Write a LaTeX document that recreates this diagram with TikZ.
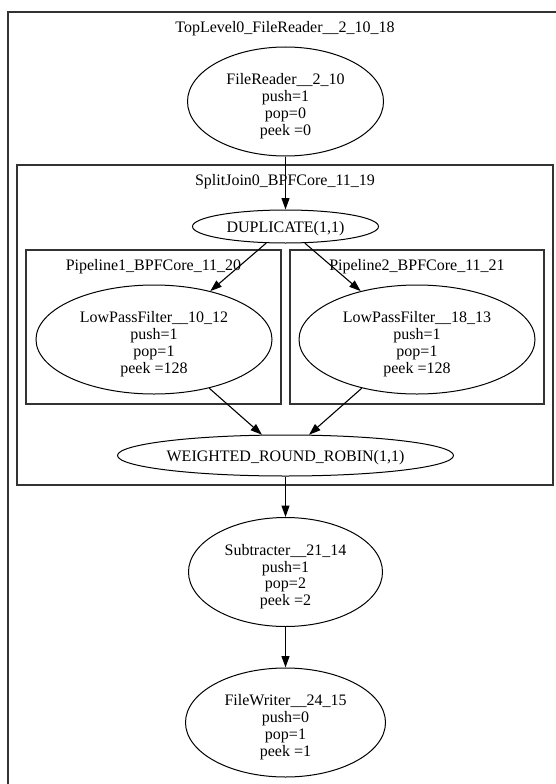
\documentclass[tikz,border=0pt]{standalone}
\usepackage{fontspec}
\setmainfont{Liberation Serif}
\usetikzlibrary{shapes.geometric,arrows.meta}
\newcommand{\zw}[1]{\raisebox{-6.5pt}{\makebox[0pt]{\rmfamily\begin{tabular}{@{}c@{}}#1\end{tabular}}}}
\newcommand{\zm}[1]{\raisebox{-9.5pt}{\makebox[0pt]{\rmfamily\begin{tabular}{@{}c@{}}#1\end{tabular}}}}
\begin{document}
\begin{tikzpicture}[x=1pt,y=-1pt,
  every node/.style={font=\fontsize{16}{16.7}\selectfont\rmfamily},
  proc/.style={draw=black,line width=1pt,ellipse,inner sep=0pt,text height=0pt,text depth=0pt},
  clusterbox/.style={draw=black!80,line width=1.1pt},
  title/.style={anchor=base,inner sep=0pt},
  flow/.style={draw=black,line width=1.1pt,-{Triangle[length=11.5pt,width=8pt]}}]
\useasboundingbox (0,0) rectangle (556,784);
\begin{scope}
\clip (0,0) rectangle (556,784);
\draw[clusterbox] (8,12) rectangle (620,830);
\end{scope}
\node[title] (ttop) at (285,32.5) {TopLevel0\_FileReader\_\_2\_10\_18};
\draw[clusterbox] (17,165) rectangle (553,485);
\node[title] (tsj) at (285,185.5) {SplitJoin0\_BPFCore\_11\_19};
\draw[clusterbox] (26,250) rectangle (281,404);
\node[title] (tp1) at (153.5,270.5) {Pipeline1\_BPFCore\_11\_20};
\draw[clusterbox] (290,250) rectangle (544,404);
\node[title] (tp2) at (417,270.5) {Pipeline2\_BPFCore\_11\_21};

\node[proc,minimum width=196pt,minimum height=109pt] (fr) at (285.5,101.5)
  {\zm{FileReader\_\_2\_10\\push=1\\pop=0\\peek =0}};
\node[proc,minimum width=186pt,minimum height=33pt] (dup) at (285.5,226.5)
  {\zw{DUPLICATE(1,1)}};
\node[proc,minimum width=236pt,minimum height=109pt] (lp1) at (154,339.5)
  {\zm{LowPassFilter\_\_10\_12\\push=1\\pop=1\\peek =128}};
\node[proc,minimum width=236pt,minimum height=109pt] (lp2) at (417,339.5)
  {\zm{LowPassFilter\_\_18\_13\\push=1\\pop=1\\peek =128}};
\node[proc,minimum width=336pt,minimum height=41pt] (wrr) at (285.5,455.5)
  {\zw{WEIGHTED\_ROUND\_ROBIN(1,1)}};
\node[proc,minimum width=194pt,minimum height=109pt] (sub) at (285.5,572)
  {\zm{Subtracter\_\_21\_14\\push=1\\pop=2\\peek =2}};
\node[proc,minimum width=200pt,minimum height=109pt] (fw) at (285.5,722.5)
  {\zm{FileWriter\_\_24\_15\\push=0\\pop=1\\peek =1}};

\draw[flow] (fr) -- (dup);
\draw[flow] (dup) -- (lp1);
\draw[flow] (dup) -- (lp2);
\draw[flow] (lp1) -- (wrr);
\draw[flow] (lp2) -- (wrr);
\draw[flow] (wrr) -- (sub);
\draw[flow] (sub) -- (fw);
\end{tikzpicture}
\end{document}
